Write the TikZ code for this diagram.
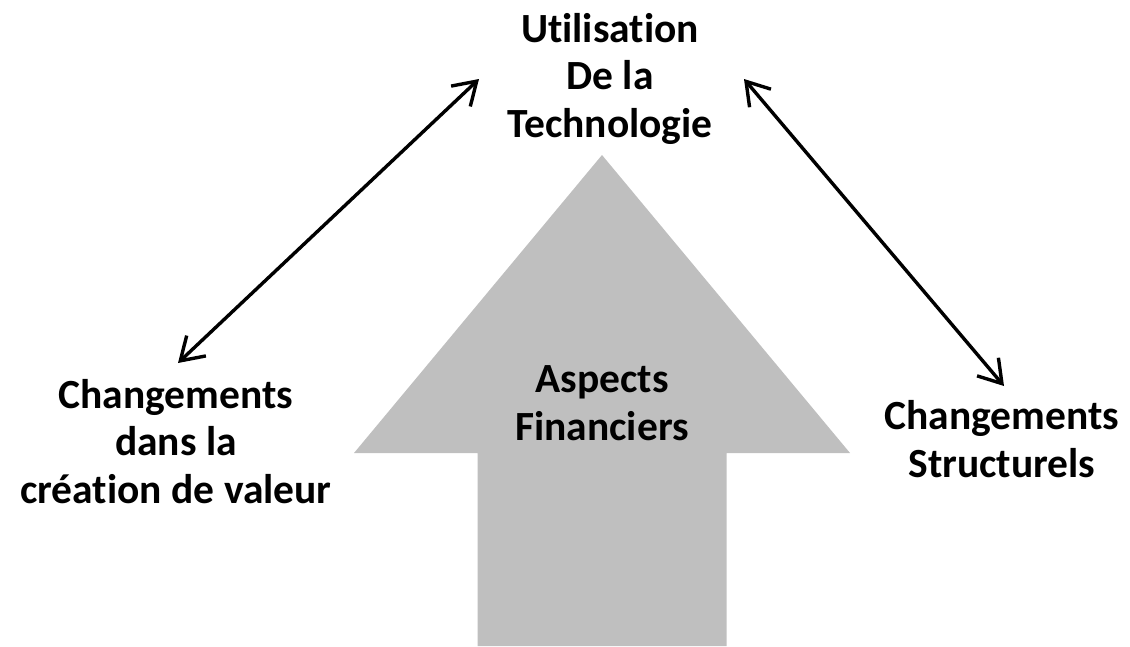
\documentclass[tikz,border=0pt]{standalone}
\usepackage{fontspec}
\setmainfont{Carlito}[Ligatures=NoCommon]
\usetikzlibrary{arrows.meta}

\begin{document}
\begin{tikzpicture}[x=1pt, y=-1pt,
	txt/.style={align=center, font=\fontsize{41.5}{47.5}\selectfont\bfseries, inner sep=0pt},
	link/.style={line width=3.4pt, line cap=round, {Straight Barb[length=22pt, width=28pt]}-{Straight Barb[length=22pt, width=28pt]}},
	bigarrow/.style={fill=black!25}
	]

	\def\tipX{602} % tip of the gray arrow
	\def\headY{453} % base of the arrow head
	\def\shaftW{124.5} % half width of the shaft
	\def\headW{248} % half width of the head

	\useasboundingbox (0,0) rectangle (1130,646);

	% the gray arrow
	\fill[bigarrow] (\tipX,155) -- (\tipX+\headW,\headY) -- (\tipX+\shaftW,\headY) -- (\tipX+\shaftW,646)
		-- (\tipX-\shaftW,646) -- (\tipX-\shaftW,\headY) -- (\tipX-\headW,\headY) -- cycle;

	% texts (anchored at the baseline of their last line)
	\node[txt, anchor=base] (tech) at (610,137) {Utilisation\\De la\\Technologie};
	\node[txt, anchor=base] (value) at (176,503) {Changements\\dans la\\création de valeur};
	\node[txt, anchor=base] (struct) at (1002,477) {Changements\\Structurels};
	\node[txt, anchor=base] (fin) at (602,440) {Aspects\\Financiers};

	% ends of the links
	\coordinate (techL) at (479,79);
	\coordinate (techR) at (744,79);
	\coordinate (valueT) at (178,363);
	\coordinate (structT) at (1004,386);

	\draw[link] (valueT) -- (techL);
	\draw[link] (techR) -- (structT);

\end{tikzpicture}
\end{document}
